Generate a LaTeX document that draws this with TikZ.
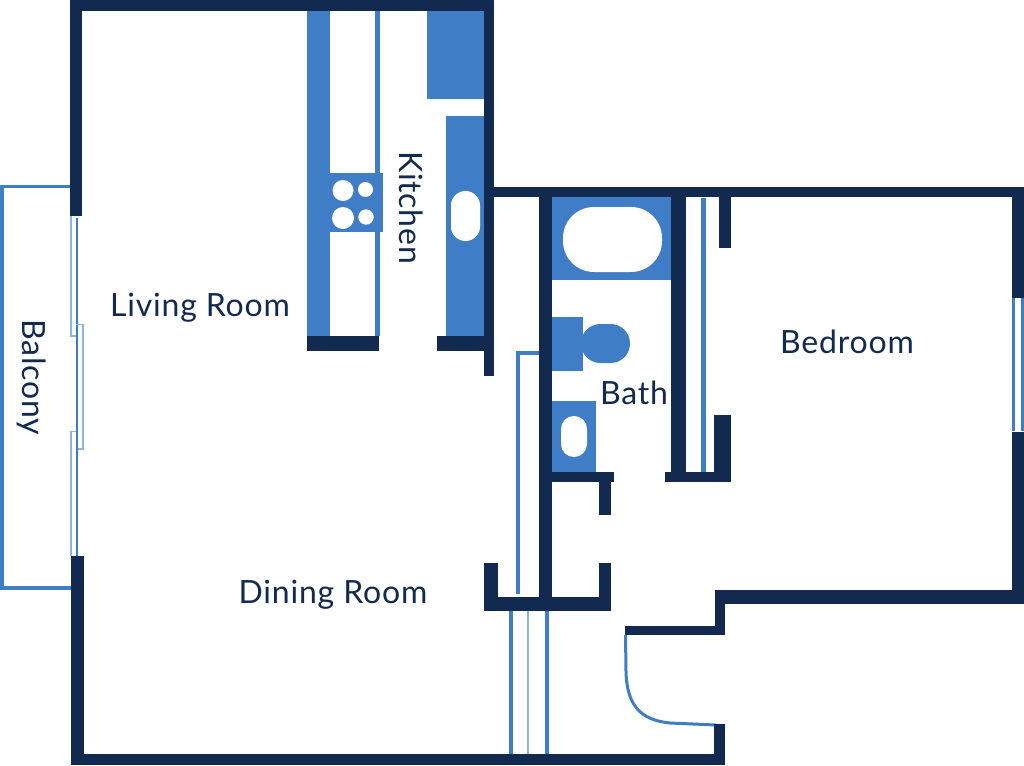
\documentclass[tikz,border=0pt]{standalone}
\usepackage{fontspec}
\setmainfont[LetterSpace=2.5]{Lato}
\definecolor{navy}{HTML}{132A50}
\definecolor{fixt}{HTML}{407DC7}
\definecolor{fixtlight}{HTML}{8FB4E0}
\tikzset{
  wall/.style={fill=navy},
  fixture/.style={fill=fixt},
  hole/.style={fill=white},
  label/.style={text=navy,inner sep=0pt,anchor=base,font=\fontsize{32}{35}\selectfont}
}
\begin{document}
\begin{tikzpicture}[x=1pt,y=-1pt]
\useasboundingbox (0,0) rectangle (1024,765);
\fill[white] (0,0) rectangle (1024,765);
% balcony
\draw[draw=fixt,line width=3.5pt,line join=miter] (70,186.5) -- (2,186.5) -- (2,588) -- (71,588);
% sliding doors
\draw[fixtlight,line width=1.6pt] (70.8,216) -- (70.8,336) -- (77,336);
\draw[fixt,line width=2.4pt] (77,218) -- (77,449);
\draw[fixtlight,line width=1.6pt] (76,324.5) -- (83,324.5) -- (83,449) -- (76,449);
\draw[fixtlight,line width=1.6pt] (76,431.5) -- (70.8,431.5) -- (70.8,556);
\draw[fixt,line width=2.4pt] (77,431) -- (77,556);
% kitchen fixtures
\fill[fixture] (307,11) rectangle (330,336);
\fill[fixture] (375,11) rectangle (380,336);
\fill[fixture] (330,173) rectangle (383,232);
\fill[hole] (343,190.5) circle (10.5);
\fill[hole] (365.5,189.5) circle (7.5);
\fill[hole] (343,218) circle (11);
\fill[hole] (366,217) circle (7.7);
\fill[fixture] (427,11) rectangle (484,99);
\fill[fixture] (446,116) rectangle (484,336);
\fill[hole,rounded corners=14.4pt] (451,191) rectangle (480,241);
% bath fixtures
\fill[fixture] (552,196) rectangle (671,280);
\fill[hole,rounded corners=31pt] (563,207) rectangle (662,272);
\fill[fixture] (552,317) rectangle (583,371);
\fill[fixture,rounded corners=19.4pt] (581,324) rectangle (630,363);
\fill[fixture] (552,401) rectangle (596,473);
\fill[hole,rounded corners=12.9pt] (561,416) rectangle (587,457);
% doors and closets
\fill[fixture] (701,198) rectangle (706,474);
\draw[fixt,line width=4pt,line join=miter] (539,352.5) -- (518,352.5) -- (518,594);
\fill[fixture] (509,610) rectangle (513,755);
\fill[fixtlight] (527,610) rectangle (529,755);
\fill[fixture] (545,610) rectangle (549,755);
\draw[fixt,line width=3pt] (625.5,635) -- (626,672) .. controls (627,705) and (640,720) .. (670,723) -- (716,725);
% right window
\fill[fixture] (1012,297) rectangle (1015,431);
\fill[fixture] (1021,297) rectangle (1024,431);
% walls
\fill[wall] (70,0) rectangle (494,11);
\fill[wall] (70,0) rectangle (82,216);
\fill[wall] (484,0) rectangle (494,376);
\fill[wall] (484,187) rectangle (1024,197);
\fill[wall] (539,187) rectangle (552,611);
\fill[wall] (671,187) rectangle (686,482);
\fill[wall] (719,187) rectangle (731,248);
\fill[wall] (714,415) rectangle (731,482);
\fill[wall] (665,472) rectangle (731,482);
\fill[wall] (552,472) rectangle (614,482);
\fill[wall] (599,472) rectangle (611,515);
\fill[wall] (484,597) rectangle (611,611);
\fill[wall] (484,563) rectangle (498,611);
\fill[wall] (599,563) rectangle (611,611);
\fill[wall] (625,626) rectangle (725,635);
\fill[wall] (715,590) rectangle (725,635);
\fill[wall] (715,590) rectangle (1024,604);
\fill[wall] (1012,187) rectangle (1024,298);
\fill[wall] (1012,432) rectangle (1024,604);
\fill[wall] (72,754) rectangle (725,765);
\fill[wall] (714,724) rectangle (725,765);
\fill[wall] (71,556) rectangle (84,765);
\fill[wall] (307,336) rectangle (379,351);
\fill[wall] (437,336) rectangle (484,351);
% labels
\node[label] (living) at (200,316) {Living Room};
\node[label,rotate=-90] (kitchen) at (399,207.5) {Kitchen};
\node[label,rotate=-90] (balcony) at (22,377.5) {Balcony};
\node[label] (dining) at (333,603) {Dining Room};
\node[label] (bath) at (634,404) {Bath};
\node[label] (bedroom) at (847,353) {Bedroom};
\end{tikzpicture}
\end{document}
